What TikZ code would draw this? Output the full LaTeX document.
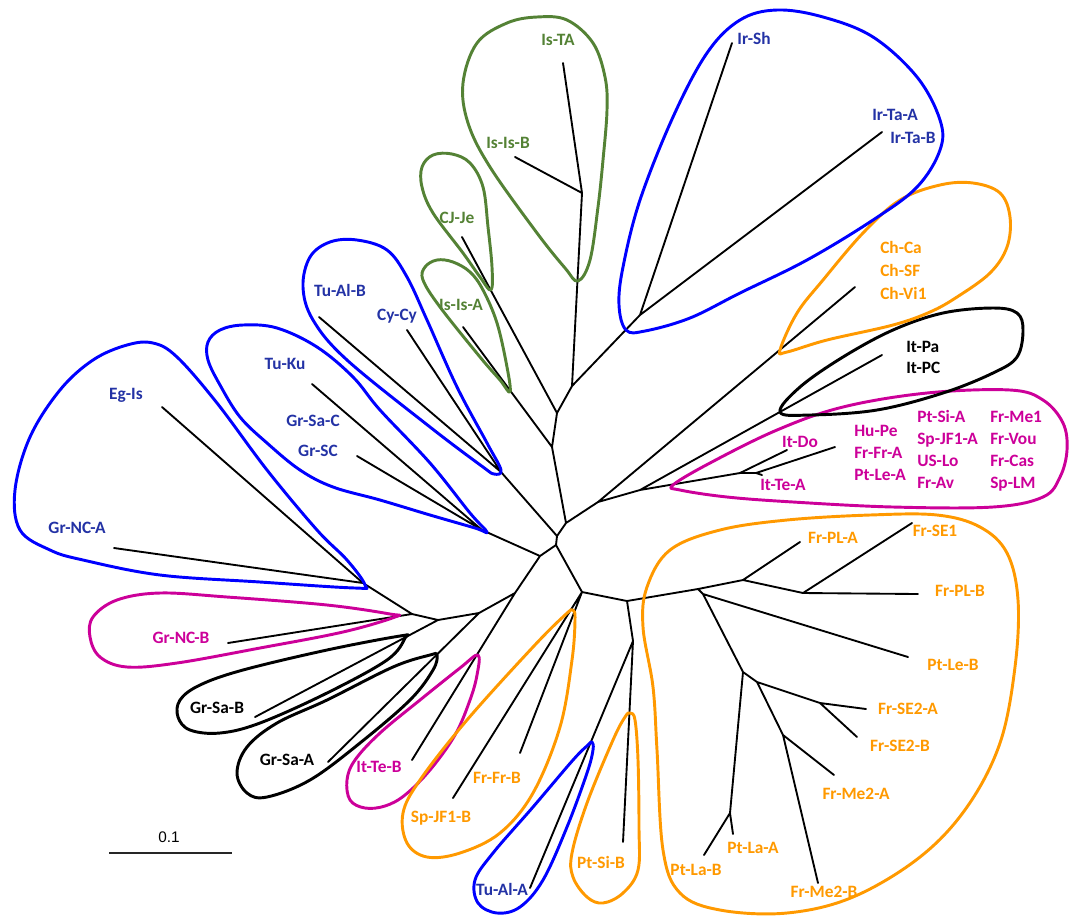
\documentclass[tikz,border=0pt]{standalone}
\usepackage{fontspec}
\setmainfont{Carlito}
\newfontfamily\barfont{Liberation Sans}
\definecolor{hblue}{RGB}{0,0,255}
\definecolor{tblue}{RGB}{35,50,165}
\definecolor{hgreen}{RGB}{84,130,53}
\definecolor{horange}{RGB}{255,153,0}
\definecolor{hmag}{RGB}{204,0,153}
\newcommand\lblfont{\fontsize{13}{15}\selectfont\bfseries}
\tikzset{
  br/.style={line width=1.4pt, black, line cap=round},
  hull/.style={line width=2.2pt, line join=round},
  lbl/.style={font=\lblfont, inner sep=0pt, text height=8.2pt, text depth=0pt},
}
\begin{document}
\begin{tikzpicture}[x=0.75pt,y=-0.75pt]
\useasboundingbox (0,0) rectangle (1073,915);
% internal nodes
\coordinate (A) at (557,536);
\coordinate (B) at (556,545);
\coordinate (C) at (566,523);
\coordinate (D) at (552,447);
\coordinate (E) at (557,413);
\coordinate (F) at (572,386);
\coordinate (M) at (582,193);
\coordinate (G) at (640,315);
\coordinate (H) at (598,502);
\coordinate (I) at (640,490);
\coordinate (K) at (740,473);
\coordinate (L) at (756,473);
\coordinate (N) at (501,472);
\coordinate (P) at (482,530);
\coordinate (O) at (540,556);
\coordinate (Q) at (412,614);
\coordinate (Q0) at (363,583);
\coordinate (R) at (438,620);
\coordinate (S) at (479,613);
\coordinate (T) at (515,593);
\coordinate (U) at (582,592);
\coordinate (W) at (627,601);
\coordinate (V) at (633,641);
\coordinate (X) at (698,589);
\coordinate (X2) at (703,594);
\coordinate (Y) at (743,580);
\coordinate (Z) at (803,593);
\coordinate (AA) at (743,672);
\coordinate (AB) at (757,682);
\coordinate (AC) at (730,813);
\coordinate (AD) at (820,703);
\coordinate (AE) at (783,735);
% leaf ends
\coordinate (eIsTA) at (563,63);
\coordinate (eIsIsB) at (515,157);
\coordinate (eCJJe) at (462,237);
\coordinate (eIsIsA) at (463,327);
\coordinate (eIrSh) at (732,43);
\coordinate (eIrTa) at (882,132);
\coordinate (eCh) at (855,287);
\coordinate (eItPa) at (882,355);
\coordinate (eItDo) at (787,450);
\coordinate (eItTeA) at (762,475);
\coordinate (eBig) at (835,447);
\coordinate (eTuAlB) at (319,317);
\coordinate (eCyCy) at (407,330);
\coordinate (eTuKu) at (312,384);
\coordinate (eGrSC) at (357,456);
\coordinate (eEgIs) at (162,407);
\coordinate (eGrNCA) at (114,548);
\coordinate (eGrNCB) at (228,643);
\coordinate (eGrSaB) at (255,717);
\coordinate (eGrSaA) at (328,762);
\coordinate (eItTeB) at (412,760);
\coordinate (eSpJFB) at (453,798);
\coordinate (eFrFrB) at (520,753);
\coordinate (eTuAlA) at (530,888);
\coordinate (ePtSiB) at (623,842);
\coordinate (eFrPLA) at (800,542);
\coordinate (eFrSE1) at (912,523);
\coordinate (eFrPLB) at (918,594);
\coordinate (ePtLeB) at (908,657);
\coordinate (eFrSEA) at (866,709);
\coordinate (eFrSEB) at (857,737);
\coordinate (eFrMeA) at (834,775);
\coordinate (eFrMeB) at (818,883);
\coordinate (ePtLaA) at (733,834);
\coordinate (ePtLaB) at (704,855);
% tree
\draw[br] (A)--(B) (A)--(C) (A)--(N) (B)--(O) (B)--(U)
  (C)--(D) (C)--(H) (D)--(E) (D)--(eIsIsA) (E)--(F) (E)--(eCJJe)
  (F)--(M) (F)--(G) (M)--(eIsTA) (M)--(eIsIsB) (G)--(eIrSh) (G)--(eIrTa)
  (H)--(I) (H)--(eCh) (I)--(K) (I)--(eItPa) (K)--(eItDo) (K)--(L)
  (L)--(eItTeA) (L)--(eBig) (N)--(eTuAlB) (N)--(eCyCy)
  (O)--(P) (O)--(T) (P)--(eTuKu) (P)--(eGrSC)
  (T)--(S) (T)--(eItTeB) (S)--(R) (S)--(eGrSaA) (R)--(Q) (R)--(eGrSaB)
  (Q)--(Q0) (Q)--(eGrNCB) (Q0)--(eEgIs) (Q0)--(eGrNCA)
  (U)--(W) (U)--(eFrFrB) (U)--(eSpJFB) (W)--(V) (W)--(X)
  (V)--(eTuAlA) (V)--(ePtSiB) (X)--(Y) (X)--(X2) (Y)--(eFrPLA) (Y)--(Z)
  (Z)--(eFrSE1) (Z)--(eFrPLB) (X2)--(ePtLeB) (X2)--(AA)
  (AA)--(AB) (AA)--(AC) (AB)--(AD) (AB)--(AE)
  (AD)--(eFrSEA) (AD)--(eFrSEB) (AE)--(eFrMeA) (AE)--(eFrMeB)
  (AC)--(ePtLaA) (AC)--(ePtLaB);
% hulls
\draw[hull,hgreen] plot[smooth cycle,tension=0.6] coordinates {(578,281) (590,260) (598,207) (603,160) (607,110) (605,77) (593,43) (567,20) (537,17) (507,23) (477,43) (463,83) (468,123) (490,167) (537,233) (565,268)};
\draw[hull,hgreen] plot[smooth cycle,tension=0.6] coordinates {(491,290) (492,267) (488,227) (483,187) (470,163) (452,154) (433,155) (422,167) (422,187) (433,213) (463,253) (480,277)};
\draw[hull,hgreen] plot[smooth cycle,tension=0.6] coordinates {(510,392) (507,367) (497,323) (483,290) (470,272) (453,262) (437,260) (425,267) (423,280) (440,307) (480,357) (500,380)};
\draw[hull,hblue] plot[smooth cycle,tension=0.6] coordinates {(501,470) (487,443) (457,387) (427,320) (407,277) (387,250) (357,240) (330,242) (310,257) (303,287) (313,320) (347,360) (430,427) (483,467) (494,474)};
\draw[hull,hblue] plot[smooth cycle,tension=0.6] coordinates {(487,532) (470,513) (430,463) (380,410) (353,377) (317,347) (277,328) (243,325) (220,330) (208,342) (208,360) (220,385) (240,417) (267,443) (300,470) (333,487) (380,500) (430,515) (475,528)};
\draw[hull,hblue] plot[smooth cycle,tension=0.6] coordinates {(365,585) (347,560) (317,530) (267,470) (217,403) (177,357) (153,343) (127,345) (93,360) (60,390) (30,437) (15,490) (20,530) (50,550) (83,560) (160,575) (260,582) (355,588)};
\draw[hull,hmag] plot[smooth cycle,tension=0.6] coordinates {(395,617) (343,632) (260,648) (177,663) (127,667) (100,657) (90,637) (93,617) (117,600) (160,593) (227,597) (327,605) (390,614)};
\draw[hull,black] plot[smooth cycle,tension=0.6] coordinates {(405,638) (387,660) (327,693) (260,723) (220,733) (190,730) (178,717) (180,700) (200,685) (243,670) (327,650) (400,636)};
\draw[hull,black] plot[smooth cycle,tension=0.6] coordinates {(437,655) (433,670) (410,700) (360,743) (310,780) (267,797) (247,793) (237,773) (247,747) (277,723) (327,700) (393,667) (430,655)};
\draw[hull,hmag] plot[smooth cycle,tension=0.6] coordinates {(478,655) (477,675) (470,700) (455,735) (430,770) (405,795) (385,806) (365,808) (350,800) (347,780) (355,760) (380,733) (420,700) (460,668)};
\draw[hull,horange] plot[smooth cycle,tension=0.6] coordinates {(573,610) (575,620) (572,660) (560,727) (533,793) (500,833) (460,853) (427,857) (407,843) (403,813) (420,780) (467,720) (533,647) (565,615)};
\draw[hull,hblue] plot[smooth cycle,tension=0.6] coordinates {(592,742) (593,750) (587,773) (567,827) (543,880) (520,907) (497,913) (478,903) (475,880) (493,853) (533,807) (573,760) (588,745)};
\draw[hull,horange] plot[smooth cycle,tension=0.6] coordinates {(630,713) (635,720) (638,760) (639,827) (638,870) (623,893) (603,903) (587,897) (573,877) (572,853) (587,803) (613,740) (625,717)};
\draw[hull,horange] plot[smooth cycle,tension=0.6] coordinates {(647,587) (670,550) (720,530) (787,520) (870,515) (937,515) (980,527) (1007,553) (1018,600) (1015,667) (1000,743) (967,807) (920,857) (853,897) (787,913) (720,910) (680,893) (663,850) (657,750) (653,687) (643,627)};
\draw[hull,hmag] plot[smooth cycle,tension=0.6] coordinates {(673,485) (710,463) (777,430) (843,407) (927,393) (1010,390) (1043,400) (1063,423) (1067,450) (1060,477) (1043,497) (993,507) (893,507) (793,502) (727,497) (680,490)};
\draw[hull,black] plot[smooth cycle,tension=0.6] coordinates {(780,412) (800,387) (843,357) (893,330) (943,313) (993,308) (1017,313) (1023,330) (1017,357) (993,373) (943,393) (877,410) (810,415)};
\draw[hull,horange] plot[smooth cycle,tension=0.6] coordinates {(780,350) (797,313) (823,280) (863,233) (900,200) (940,185) (973,183) (1000,193) (1010,217) (1007,247) (990,273) (957,297) (930,312) (893,325) (827,340) (787,352)};
\draw[hull,hblue] plot[smooth cycle,tension=0.6] coordinates {(626,330) (619,305) (623,267) (640,200) (673,117) (707,53) (740,20) (777,10) (823,17) (873,37) (917,77) (940,120) (940,150) (917,187) (873,220) (807,260) (740,293) (690,318) (645,331)};
% labels
\node[lbl,hgreen] (lIsTA) at (558,40) {Is-TA};
\node[lbl,hgreen] (lIsIsB) at (508,143) {Is-Is-B};
\node[lbl,hgreen] (lCJJe) at (457,218) {CJ-Je};
\node[lbl,hgreen] (lIsIsA) at (461,305) {Is-Is-A};
\node[lbl,tblue] (lIrSh) at (754,39) {Ir-Sh};
\node[lbl,tblue,anchor=west] (lIrTaA) at (872,115) {Ir-Ta-A};
\node[lbl,tblue,anchor=west] (lIrTaB) at (890,138) {Ir-Ta-B};
\node[lbl,horange,anchor=west] (lChCa) at (880,248) {Ch-Ca};
\node[lbl,horange,anchor=west] (lChSF) at (880,271) {Ch-SF};
\node[lbl,horange,anchor=west] (lChVi) at (880,294) {Ch-Vi1};
\node[lbl,black,anchor=west] (lItPa) at (906,347) {It-Pa};
\node[lbl,black,anchor=west] (lItPC) at (906,368) {It-PC};
\node[lbl,hmag] (lItDo) at (800,442) {It-Do};
\node[lbl,hmag] (lItTeA) at (783,485) {It-Te-A};
\node[lbl,hmag,anchor=west] (lHuPe) at (854,431) {Hu-Pe};
\node[lbl,hmag,anchor=west] (lFrFrA) at (854,453) {Fr-Fr-A};
\node[lbl,hmag,anchor=west] (lPtLeA) at (854,475) {Pt-Le-A};
\node[lbl,hmag,anchor=west] (lPtSiA) at (917,417) {Pt-Si-A};
\node[lbl,hmag,anchor=west] (lSpJFA) at (917,439) {Sp-JF1-A};
\node[lbl,hmag,anchor=west] (lUSLo) at (917,461) {US-Lo};
\node[lbl,hmag,anchor=west] (lFrAv) at (917,483) {Fr-Av};
\node[lbl,hmag,anchor=west] (lFrMe1) at (990,417) {Fr-Me1};
\node[lbl,hmag,anchor=west] (lFrVou) at (990,439) {Fr-Vou};
\node[lbl,hmag,anchor=west] (lFrCas) at (990,461) {Fr-Cas};
\node[lbl,hmag,anchor=west] (lSpLM) at (990,483) {Sp-LM};
\node[lbl,tblue] (lTuAlB) at (340,291) {Tu-Al-B};
\node[lbl,tblue] (lCyCy) at (397,315) {Cy-Cy};
\node[lbl,tblue] (lTuKu) at (285,364) {Tu-Ku};
\node[lbl,tblue] (lGrSaC) at (313,421) {Gr-Sa-C};
\node[lbl,tblue] (lGrSC) at (318,451) {Gr-SC};
\node[lbl,tblue] (lEgIs) at (126,394) {Eg-Is};
\node[lbl,tblue] (lGrNCA) at (77,528) {Gr-NC-A};
\node[lbl,hmag] (lGrNCB) at (181,638) {Gr-NC-B};
\node[lbl,black] (lGrSaB) at (217,708) {Gr-Sa-B};
\node[lbl,black] (lGrSaA) at (287,760) {Gr-Sa-A};
\node[lbl,hmag] (lItTeB) at (379,767) {It-Te-B};
\node[lbl,horange] (lSpJFB) at (441,817) {Sp-JF1-B};
\node[lbl,horange] (lFrFrB) at (497,778) {Fr-Fr-B};
\node[lbl,tblue] (lTuAlA) at (502,890) {Tu-Al-A};
\node[lbl,horange] (lPtSiB) at (601,863) {Pt-Si-B};
\node[lbl,horange] (lPtLaB) at (696,870) {Pt-La-B};
\node[lbl,horange] (lPtLaA) at (753,848) {Pt-La-A};
\node[lbl,horange] (lFrMeB) at (824,892) {Fr-Me2-B};
\node[lbl,horange] (lFrMeA) at (856,794) {Fr-Me2-A};
\node[lbl,horange] (lFrSEB) at (900,746) {Fr-SE2-B};
\node[lbl,horange] (lFrSEA) at (908,709) {Fr-SE2-A};
\node[lbl,horange] (lPtLeB) at (953,665) {Pt-Le-B};
\node[lbl,horange] (lFrPLB) at (960,591) {Fr-PL-B};
\node[lbl,horange] (lFrPLA) at (833,538) {Fr-PL-A};
\node[lbl,horange] (lFrSE1) at (935,531) {Fr-SE1};
% scale bar
\coordinate (sb1) at (109,853);
\coordinate (sb2) at (232,853);
\draw[line width=1.3pt, black!85] (sb1) -- (sb2);
\node[font=\barfont\fontsize{11.5}{13}\selectfont, inner sep=0pt, text height=8.3pt, text depth=0pt] (sbl) at (169,837) {0.1};
\end{tikzpicture}
\end{document}
